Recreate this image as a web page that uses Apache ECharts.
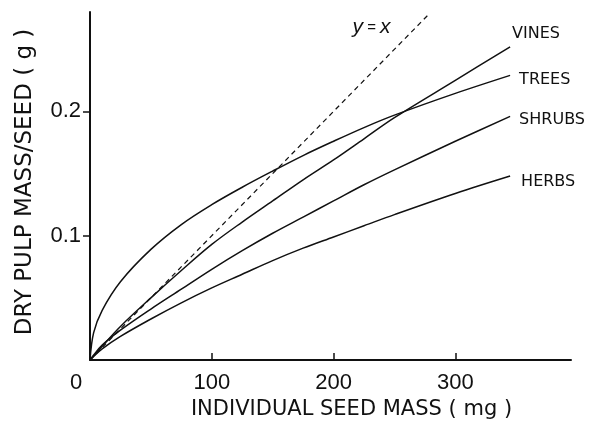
<!DOCTYPE html>
<html>
<head>
<meta charset="utf-8">
<script src="https://cdn.jsdelivr.net/npm/echarts@6/dist/echarts.min.js"></script>
<style>
  html, body { margin: 0; padding: 0; background: #fff; }
  #myChart { width: 603px; height: 421px; }
</style>
</head>
<body>
<div id="myChart"></div>
<script>
// seed mass (mg)
let seedMass = [0, 3, 10, 25, 50, 75, 100, 125, 150, 175, 200, 225, 250, 300, 345];
// dry pulp mass per seed (g)
let vines  = [0, 0.003, 0.011, 0.027, 0.050, 0.072, 0.093, 0.111, 0.128, 0.145, 0.161, 0.178, 0.195, 0.225, 0.252];
let trees  = [0, 0.022, 0.040, 0.063, 0.089, 0.109, 0.125, 0.139, 0.152, 0.1645, 0.176, 0.187, 0.197, 0.2145, 0.229];
let shrubs = [0, 0.004, 0.012, 0.024, 0.041, 0.057, 0.073, 0.088, 0.102, 0.115, 0.128, 0.141, 0.153, 0.176, 0.196];
let herbs  = [0, 0.003, 0.009, 0.019, 0.033, 0.046, 0.058, 0.069, 0.080, 0.090, 0.099, 0.108, 0.117, 0.134, 0.148];
let identityX = [0, 278];
let identityY = [0, 0.278];
let xTicks = [0, 100, 200, 300];
let yTicks = [0.1, 0.2];

function pairs(xs, ys) {
  return xs.map((x, i) => [x, ys[i]]);
}

let font = 'Liberation Sans';
let nameFont = 'DejaVu Sans';
let ink = '#111';

function curve(name, ys, offset) {
  return {
    name: name,
    type: 'line',
    data: pairs(seedMass, ys),
    smooth: 0.35,
    symbol: 'none',
    lineStyle: { color: ink, width: 1.5 },
    endLabel: {
      show: true,
      formatter: name,
      offset: offset,
      color: ink,
      fontFamily: nameFont,
      fontSize: 16
    }
  };
}

let option = {
  animation: false,
  backgroundColor: '#fff',
  grid: { left: 90, right: 32, top: 12, bottom: 61, outerBoundsMode: 'none' },
  xAxis: {
    type: 'value',
    min: 0,
    max: 395,
    interval: 100,
    splitLine: { show: false },
    axisLine: { lineStyle: { color: ink, width: 2 } },
    axisTick: { inside: true, length: 7, customValues: [100, 200, 300], lineStyle: { color: ink, width: 1.5 } },
    axisLabel: {
      customValues: xTicks,
      margin: 12,
      color: ink,
      fontFamily: font,
      fontSize: 22,
      formatter: v => v === 0 ? '{z|0}' : String(v),
      rich: { z: { padding: [0, 28, 0, 0], fontFamily: font, fontSize: 22, color: ink } }
    },
    name: 'INDIVIDUAL SEED MASS ( mg )',
    nameLocation: 'middle',
    nameGap: 34,
    nameTextStyle: { color: ink, fontFamily: nameFont, fontSize: 21, padding: [0, 0, 0, 42] }
  },
  yAxis: {
    type: 'value',
    min: 0,
    max: 0.28,
    interval: 0.1,
    splitLine: { show: false },
    axisLine: { lineStyle: { color: ink, width: 2 } },
    axisTick: { length: 7, customValues: yTicks, lineStyle: { color: ink, width: 1.5 } },
    axisLabel: {
      customValues: yTicks,
      margin: 9,
      color: ink,
      fontFamily: font,
      fontSize: 22
    },
    name: 'DRY PULP MASS/SEED ( g )',
    nameLocation: 'middle',
    nameGap: 53,
    nameTextStyle: { color: ink, fontFamily: nameFont, fontSize: 23, padding: [0, 0, 0, 8] }
  },
  series: [
    curve('VINES', vines, [-6, -13]),
    curve('TREES', trees, [1, 4]),
    curve('SHRUBS', shrubs, [1, 3]),
    curve('HERBS', herbs, [3, 6]),
    {
      name: 'y = x',
      type: 'line',
      data: pairs(identityX, identityY),
      symbol: 'none',
      lineStyle: { color: ink, width: 1.2, type: [5, 4] },
      endLabel: {
        show: true,
        formatter: '{i|y} = {i|x}',
        offset: [-84, 13],
        color: ink,
        fontFamily: font,
        fontSize: 15,
        rich: { i: { fontStyle: 'italic', fontFamily: font, fontSize: 21, color: ink } }
      }
    }
  ]
};

let myChart = echarts.init(document.getElementById('myChart'));
myChart.setOption(option);
</script>
</body>
</html>
